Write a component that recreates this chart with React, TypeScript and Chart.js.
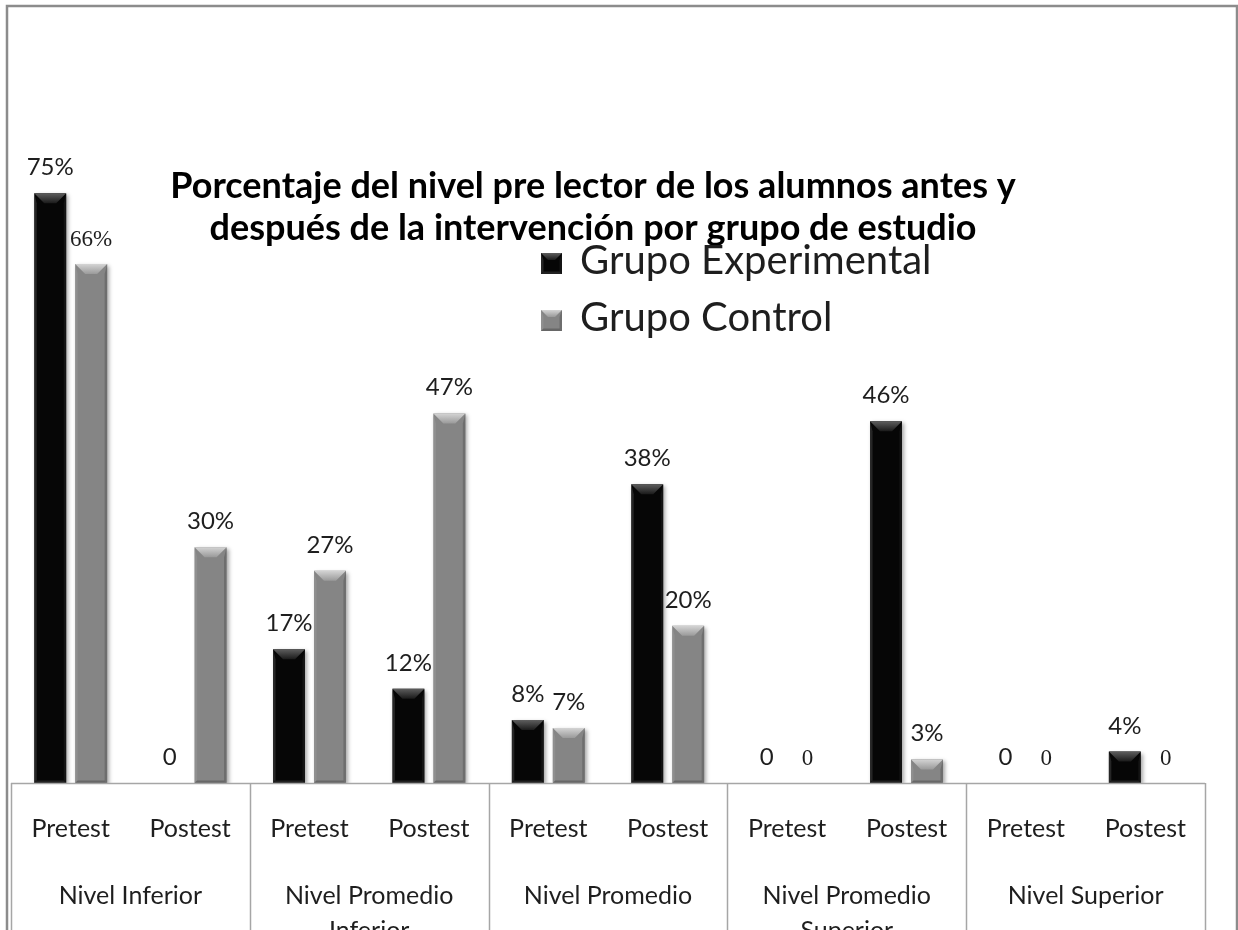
import React, { useEffect, useRef } from "react";
import { Chart, registerables } from "chart.js";

Chart.register(...registerables);

// ---------- data ----------
const subCategories = [
  "Pretest", "Postest",
  "Pretest", "Postest",
  "Pretest", "Postest",
  "Pretest", "Postest",
  "Pretest", "Postest",
];
const groupLabels: string[][] = [
  ["Nivel Inferior"],
  ["Nivel Promedio", "Inferior"],
  ["Nivel Promedio"],
  ["Nivel Promedio", "Superior"],
  ["Nivel Superior"],
];
const seriesNames = ["Grupo Experimental", "Grupo Control"];
const experimental = [75, 0, 17, 12, 8, 38, 0, 46, 0, 4];
const control = [66, 30, 27, 47, 7, 20, 0, 3, 0, 0];
const titleLines = [
  "Porcentaje del nivel pre lector de los alumnos antes y",
  "después de la intervención por grupo de estudio",
];

const FONT = "Lato, 'Noto Sans', sans-serif";
const SERIF = "'Liberation Serif', 'DejaVu Serif', serif";
const TEXT = "#1e1e1e";
const LINE = "#a6a6a6";
const COLORS = ["#060606", "#858585"];

function bevel(ctx: CanvasRenderingContext2D, left: number, top: number, right: number, bottom: number, kind: number) {
  const w = right - left;
  const h = bottom - top;
  if (h <= 0.5 || w <= 0) return;
  const b = Math.min(10, h / 2, w / 3);
  const s = Math.min(2.5, h / 3);
  ctx.save();
  const g = ctx.createLinearGradient(0, top, 0, top + b);
  if (kind === 0) {
    g.addColorStop(0, "#5e5e5e");
    g.addColorStop(1, "#1a1a1a");
  } else {
    g.addColorStop(0, "#d4d4d4");
    g.addColorStop(1, "#9a9a9a");
  }
  ctx.fillStyle = g;
  ctx.beginPath();
  ctx.moveTo(left, top);
  ctx.lineTo(right, top);
  ctx.lineTo(right - b, top + b);
  ctx.lineTo(left + b, top + b);
  ctx.closePath();
  ctx.fill();
  ctx.fillStyle = kind === 0 ? "rgba(60,60,60,0.6)" : "rgba(150,150,150,0.6)";
  ctx.beginPath();
  ctx.moveTo(left, top);
  ctx.lineTo(left + s, top + b);
  ctx.lineTo(left + s, bottom - s);
  ctx.lineTo(left, bottom);
  ctx.closePath();
  ctx.fill();
  ctx.fillStyle = kind === 0 ? "rgba(30,30,30,0.6)" : "rgba(100,100,100,0.7)";
  ctx.beginPath();
  ctx.moveTo(right, top);
  ctx.lineTo(right - s, top + b);
  ctx.lineTo(right - s, bottom - s);
  ctx.lineTo(right, bottom);
  ctx.closePath();
  ctx.fill();
  ctx.fillStyle = kind === 0 ? "rgba(40,40,40,0.8)" : "rgba(95,95,95,0.8)";
  ctx.beginPath();
  ctx.moveTo(left, bottom);
  ctx.lineTo(right, bottom);
  ctx.lineTo(right - s, bottom - s);
  ctx.lineTo(left + s, bottom - s);
  ctx.closePath();
  ctx.fill();
  ctx.restore();
}

const decorPlugin = {
  id: "decor",
  beforeDatasetsDraw(chart: any) {
    const ctx = chart.ctx;
    ctx.save();
    ctx.shadowColor = "rgba(0,0,0,0.35)";
    ctx.shadowBlur = 4;
    ctx.shadowOffsetX = 2;
    ctx.shadowOffsetY = 2;
  },
  afterDatasetsDraw(chart: any) {
    const ctx = chart.ctx as CanvasRenderingContext2D;
    ctx.restore();
    chart.data.datasets.forEach((ds: any, di: number) => {
      const meta = chart.getDatasetMeta(di);
      meta.data.forEach((bar: any, i: number) => {
        const p = bar.getProps(["x", "y", "base", "width"], true);
        const left = p.x - p.width / 2;
        const right = p.x + p.width / 2;
        bevel(ctx, left, p.y, right, p.base, di);
        const v = ds.data[i];
        const txt = v === 0 ? "0" : v + "%";
        const serif = di === 1 && (v === 0 || v === 66);
        ctx.save();
        ctx.fillStyle = TEXT;
        ctx.textAlign = "center";
        ctx.textBaseline = "alphabetic";
        ctx.font = serif ? `23px ${SERIF}` : `24px ${FONT}`;
        ctx.fillText(txt, p.x, p.y - 18);
        ctx.restore();
      });
    });
  },
  afterDraw(chart: any) {
    const ctx = chart.ctx as CanvasRenderingContext2D;
    const area = chart.chartArea;
    const xs = chart.scales.x;
    ctx.save();
    ctx.strokeStyle = "#8c8c8c";
    ctx.lineWidth = 2.5;
    ctx.strokeRect(7, 6, 1230, 1000);
    ctx.strokeStyle = LINE;
    ctx.lineWidth = 1.5;
    ctx.beginPath();
    ctx.moveTo(area.left, area.bottom + 0.5);
    ctx.lineTo(area.right, area.bottom + 0.5);
    const n = subCategories.length;
    const step = (area.right - area.left) / n;
    for (let g = 0; g <= groupLabels.length; g++) {
      const x = Math.round(area.left + g * 2 * step) + 0.5;
      ctx.moveTo(x, area.bottom);
      ctx.lineTo(x, chart.height + 10);
    }
    ctx.stroke();
    ctx.fillStyle = TEXT;
    ctx.textAlign = "center";
    ctx.textBaseline = "alphabetic";
    ctx.font = `25px ${FONT}`;
    groupLabels.forEach((lines, g) => {
      const cx = (xs.getPixelForValue(g * 2) + xs.getPixelForValue(g * 2 + 1)) / 2;
      lines.forEach((ln, k) => {
        ctx.fillText(ln, cx, 904 + k * 35);
      });
    });
    ctx.font = `bold 36px ${FONT}`;
    ctx.fillStyle = "#000";
    titleLines.forEach((ln, k) => ctx.fillText(ln, 593, 198 + k * 42));
    ctx.textAlign = "left";
    ctx.font = `40px ${FONT}`;
    seriesNames.forEach((name, k) => {
      const my = 253 + k * 57;
      ctx.fillStyle = COLORS[k];
      ctx.fillRect(541, my, 21, 21);
      bevel(ctx, 541, my, 562, my + 21, k);
      ctx.fillStyle = TEXT;
      ctx.fillText(name, 580, 274 + k * 57);
    });
    ctx.restore();
  },
};

export default function App() {
  const ref = useRef<HTMLCanvasElement | null>(null);
  useEffect(() => {
    document.body.style.margin = "0";
    document.body.style.overflow = "hidden";
    const canvas = ref.current;
    if (!canvas) return;
    const chart = new Chart(canvas, {
      type: "bar",
      data: {
        labels: subCategories,
        datasets: [
          { label: seriesNames[0], data: experimental, backgroundColor: COLORS[0], borderWidth: 0 },
          { label: seriesNames[1], data: control, backgroundColor: COLORS[1], borderWidth: 0 },
        ],
      },
      options: {
        animation: false,
        responsive: false,
        devicePixelRatio: 1,
        layout: { padding: { left: 10, right: 33, top: 154, bottom: 0 } },
        datasets: { bar: { categoryPercentage: 0.686, barPercentage: 0.78 } },
        plugins: {
          legend: { display: false },
          title: { display: false },
          tooltip: { enabled: false },
        },
        scales: {
          x: {
            grid: { display: false, drawTicks: false },
            border: { display: false },
            ticks: {
              color: TEXT,
              font: { family: FONT, size: 25 },
              padding: 31,
              maxRotation: 0,
              autoSkip: false,
            },
            afterFit: (s: any) => {
              s.height = 147;
            },
          },
          y: { display: false, min: 0, max: 80 },
        },
      },
      plugins: [decorPlugin],
    });
    return () => chart.destroy();
  }, []);
  return (
    <canvas
      ref={ref}
      width={1238}
      height={930}
      style={{ position: "absolute", left: 0, top: 0, display: "block" }}
    />
  );
}
